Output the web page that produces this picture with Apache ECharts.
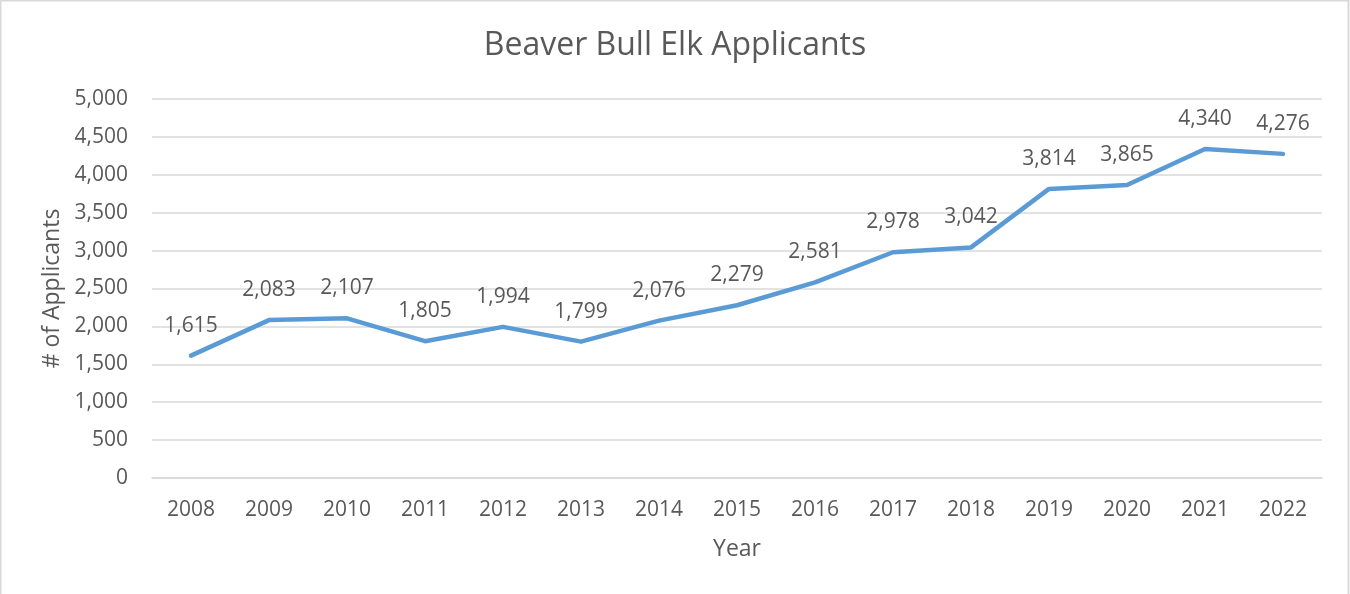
<!DOCTYPE html>
<html>
<head>
<meta charset="utf-8">
<script src="https://cdn.jsdelivr.net/npm/echarts@6/dist/echarts.min.js"></script>
<style>
html,body{margin:0;padding:0;background:#fff;}
#c{width:1350px;height:594px;}
</style>
</head>
<body>
<div id="c"></div>
<script>
const years = ['2008','2009','2010','2011','2012','2013','2014','2015','2016','2017','2018','2019','2020','2021','2022'];
const applicants = [1615,2083,2107,1805,1994,1799,2076,2279,2581,2978,3042,3814,3865,4340,4276];
const titleText = 'Beaver Bull Elk Applicants';
const xName = 'Year';
const yName = '# of Applicants';

const FONT = '"Open Sans", sans-serif';
const TXT = '#595959';
const chart = echarts.init(document.getElementById('c'), null, {renderer:'canvas'});
chart.setOption({
  animation:false,
  backgroundColor:'#fff',
  graphic:[{type:'rect', shape:{x:0.5,y:0.5,width:1348,height:620}, style:{fill:'none', stroke:'#d9d9d9', lineWidth:2}, silent:true}],
  title:{text:titleText, left:'center', top:25, textStyle:{fontFamily:FONT, fontSize:32, fontWeight:'normal', color:TXT}},
  grid:{left:152, right:28, top:99, bottom:116},
  xAxis:{type:'category', data:years, boundaryGap:true,
    name:xName, nameLocation:'middle', nameGap:60,
    nameTextStyle:{fontFamily:FONT, fontSize:23, color:TXT},
    axisLine:{show:true, lineStyle:{color:'#d9d9d9', width:1.5}}, axisTick:{show:false},
    axisLabel:{fontFamily:FONT, fontSize:21, color:TXT, margin:22}},
  yAxis:{type:'value', min:0, max:5000, interval:500,
    name:yName, nameLocation:'middle', nameGap:88,
    nameTextStyle:{fontFamily:FONT, fontSize:23, color:TXT},
    axisLine:{show:false}, axisTick:{show:false},
    splitLine:{lineStyle:{color:'#d9d9d9', width:1.5}},
    axisLabel:{fontFamily:FONT, fontSize:21, color:TXT, margin:24,
      formatter:v=>v.toLocaleString('en-US')}},
  series:[{type:'line', data:applicants, symbol:'circle', symbolSize:3, showSymbol:true,
    lineStyle:{color:'#5B9BD5', width:4.5, cap:'round', join:'round'},
    itemStyle:{color:'#5B9BD5'},
    label:{show:true, position:'top', distance:18, fontFamily:FONT, fontSize:21, color:TXT,
      formatter:p=>p.value.toLocaleString('en-US')}}]
});
</script>
</body>
</html>
